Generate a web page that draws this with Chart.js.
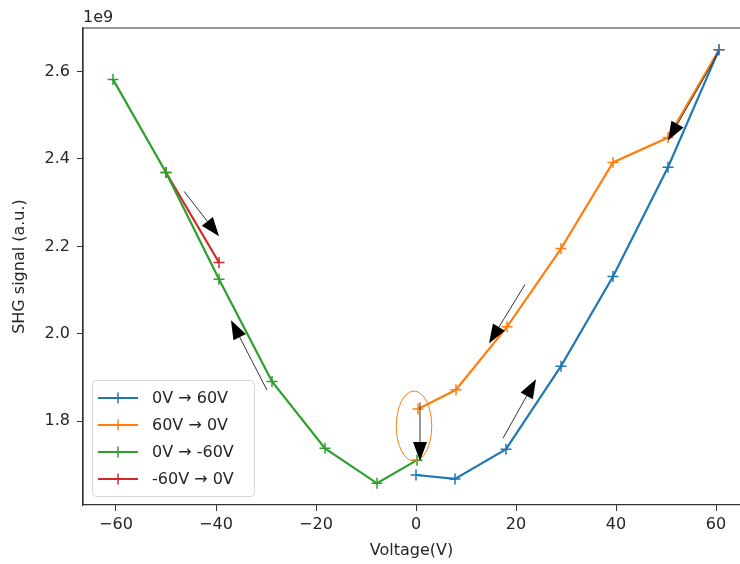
<!DOCTYPE html>
<html>
<head>
<meta charset="utf-8">
<script src="https://cdn.jsdelivr.net/npm/chart.js@4.4.1/dist/chart.umd.min.js"></script>
<style>
    html, body { margin: 0; padding: 0; background: #fff; overflow: hidden; }
    canvas { display: block; }
</style>
</head>
<body>
<canvas id="chart" width="740" height="564"></canvas>
<script>
// values in units of 1e9
let upX = [0, 7.8, 18, 29, 39.4, 50.4, 60.6];
let upY = [1.677, 1.668, 1.736, 1.926, 2.131, 2.381, 2.650];
let downX = [60.6, 50.4, 39.4, 29, 18.2, 8, 0.4];
let downY = [2.650, 2.449, 2.392, 2.195, 2.016, 1.872, 1.828];
let negX = [0.2, -7.8, -18.2, -28.8, -39.4, -50, -60.6];
let negY = [1.711, 1.658, 1.738, 1.891, 2.125, 2.369, 2.582];
let backX = [-50, -39.4];
let backY = [2.369, 2.163];

let labels = ["0V \u2192 60V", "60V \u2192 0V", "0V \u2192 -60V", "-60V \u2192 0V"];
let colors = ["#1f77b4", "#ff7f0e", "#2ca02c", "#d62728"];

let xTicks = [-60, -40, -20, 0, 20, 40, 60];
let yTicks = [1.8, 2.0, 2.2, 2.4, 2.6];

// annotation arrows, [x, y] in data units
let arrowTails = [[-46.4, 2.326], [-29.8, 1.871], [0.8, 1.843], [21.8, 2.113], [17.4, 1.761], [60.4, 2.641]];
let arrowTips = [[-39.4, 2.223], [-37, 2.031], [0.8, 1.709], [14.6, 1.978], [24, 1.896], [50.4, 2.442]];
let ellipseCenter = [-0.4, 1.789];
let ellipseRadius = [3.55, 0.08];

const FONT = "'DejaVu Sans', sans-serif";
const TXT = "#262626";

function toPoints(xs, ys) {
    return xs.map((x, i) => ({x: x, y: ys[i]}));
}

function fmt(v) {
    return String(v).replace("-", "\u2212");
}

let series = [[upX, upY], [downX, downY], [negX, negY], [backX, backY]];

let datasets = series.map((s, i) => ({
    label: labels[i],
    data: toPoints(s[0], s[1]),
    showLine: true,
    borderColor: colors[i],
    backgroundColor: colors[i],
    borderWidth: 2.2,
    pointStyle: "cross",
    pointRadius: 5.5,
    pointBorderWidth: 1.5,
    pointBorderColor: colors[i],
    tension: 0
}));

let extras = {
    id: "extras",
    afterDatasetsDraw(chart) {
        let ctx = chart.ctx;
        let xs = chart.scales.x;
        let ys = chart.scales.y;
        let area = chart.chartArea;

        // orange ellipse
        ctx.save();
        let cx = xs.getPixelForValue(ellipseCenter[0]);
        let cy = ys.getPixelForValue(ellipseCenter[1]);
        let rx = Math.abs(xs.getPixelForValue(ellipseCenter[0] + ellipseRadius[0]) - cx);
        let ry = Math.abs(ys.getPixelForValue(ellipseCenter[1] + ellipseRadius[1]) - cy);
        ctx.strokeStyle = colors[1];
        ctx.lineWidth = 1;
        ctx.beginPath();
        ctx.ellipse(cx, cy, rx, ry, 0, 0, Math.PI * 2);
        ctx.stroke();
        ctx.restore();

        // arrows
        arrowTails.forEach((t, i) => {
            let x0 = xs.getPixelForValue(t[0]);
            let y0 = ys.getPixelForValue(t[1]);
            let x1 = xs.getPixelForValue(arrowTips[i][0]);
            let y1 = ys.getPixelForValue(arrowTips[i][1]);
            let ang = Math.atan2(y1 - y0, x1 - x0);
            let headLen = 19, headHalf = 7;
            let bx = x1 - headLen * Math.cos(ang);
            let by = y1 - headLen * Math.sin(ang);
            ctx.save();
            ctx.strokeStyle = "#333";
            ctx.lineWidth = 1;
            ctx.beginPath();
            ctx.moveTo(x0, y0);
            ctx.lineTo(bx, by);
            ctx.stroke();
            ctx.fillStyle = "#000";
            ctx.beginPath();
            ctx.moveTo(x1, y1);
            ctx.lineTo(bx + headHalf * Math.sin(ang), by - headHalf * Math.cos(ang));
            ctx.lineTo(bx - headHalf * Math.sin(ang), by + headHalf * Math.cos(ang));
            ctx.closePath();
            ctx.fill();
            ctx.restore();
        });

        // frame (right spine falls just outside the picture)
        ctx.save();
        ctx.strokeStyle = "#333";
        ctx.lineWidth = 1.2;
        ctx.beginPath();
        ctx.moveTo(area.left, area.bottom);
        ctx.lineTo(area.left, area.top);
        ctx.lineTo(area.right, area.top);
        ctx.stroke();
        ctx.restore();

        // offset text
        ctx.save();
        ctx.fillStyle = TXT;
        ctx.font = "16px " + FONT;
        ctx.textBaseline = "alphabetic";
        ctx.textAlign = "left";
        ctx.fillText("1e9", area.left, area.top - 6);
        ctx.restore();

        // legend
        ctx.save();
        let lx = 92, ly = 380, lw = 162, lh = 116;
        ctx.fillStyle = "rgba(255,255,255,0.8)";
        ctx.strokeStyle = "#d6d6d6";
        ctx.lineWidth = 1;
        ctx.beginPath();
        ctx.roundRect(lx + 0.5, ly + 0.5, lw, lh, 4);
        ctx.fill();
        ctx.stroke();
        chart.data.datasets.forEach((ds, i) => {
            let rowY = ly + 18 + i * 27;
            ctx.strokeStyle = ds.borderColor;
            ctx.lineWidth = 2.2;
            ctx.beginPath();
            ctx.moveTo(lx + 6, rowY);
            ctx.lineTo(lx + 46, rowY);
            ctx.stroke();
            ctx.lineWidth = 1.5;
            ctx.beginPath();
            ctx.moveTo(lx + 26, rowY - 5.5);
            ctx.lineTo(lx + 26, rowY + 5.5);
            ctx.moveTo(lx + 20.5, rowY);
            ctx.lineTo(lx + 31.5, rowY);
            ctx.stroke();
            ctx.fillStyle = TXT;
            ctx.font = "16px " + FONT;
            ctx.textBaseline = "middle";
            ctx.fillText(ds.label, lx + 60, rowY + 1);
        });
        ctx.restore();
    }
};

let chart = new Chart(document.getElementById("chart"), {
    type: "scatter",
    data: {datasets},
    plugins: [extras],
    options: {
        responsive: false,
        animation: false,
        layout: {autoPadding: false, padding: {top: 28, right: 0, left: 0, bottom: 0}},
        plugins: {
            legend: {display: false},
            tooltip: {enabled: false}
        },
        scales: {
            x: {
                type: "linear",
                min: -66.6,
                max: 64.8,
                afterBuildTicks: s => { s.ticks = xTicks.map(v => ({value: v})); },
                afterFit: s => { s.height = 59; s.paddingLeft = 0; s.paddingRight = 0; },
                grid: {drawOnChartArea: false, drawTicks: true, tickLength: 6, tickColor: "#333", tickWidth: 1},
                border: {color: "#333", width: 1.2},
                ticks: {
                    color: TXT,
                    padding: 4,
                    maxRotation: 0,
                    font: {family: FONT, size: 16},
                    callback: v => fmt(v)
                },
                title: {
                    display: true,
                    text: "Voltage(V)",
                    color: TXT,
                    font: {family: FONT, size: 16},
                    padding: {top: 0, bottom: 4}
                }
            },
            y: {
                type: "linear",
                min: 1.6084,
                max: 2.6996,
                afterBuildTicks: s => { s.ticks = yTicks.map(v => ({value: v})); },
                afterFit: s => { s.width = 83; s.paddingTop = 0; s.paddingBottom = 0; },
                grid: {drawOnChartArea: false, drawTicks: true, tickLength: 6, tickColor: "#333", tickWidth: 1},
                border: {color: "#333", width: 1.2},
                ticks: {
                    color: TXT,
                    padding: 7,
                    font: {family: FONT, size: 16},
                    callback: v => v.toFixed(1)
                },
                title: {
                    display: true,
                    text: "SHG signal (a.u.)",
                    color: TXT,
                    font: {family: FONT, size: 16},
                    padding: {top: 10, bottom: 0}
                }
            }
        }
    }
});
</script>
</body>
</html>
